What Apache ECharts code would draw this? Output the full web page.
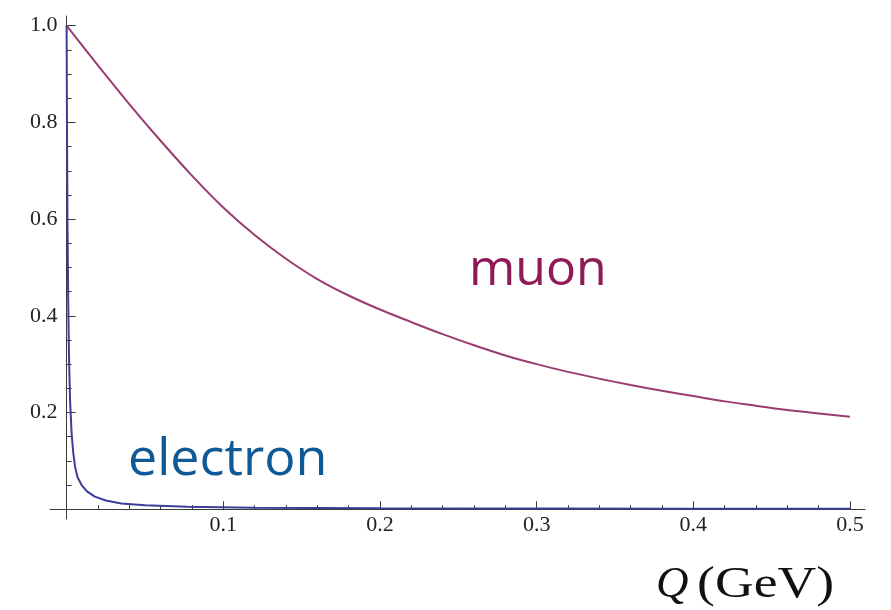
<!DOCTYPE html>
<html>
<head>
<meta charset="utf-8">
<script src="https://cdn.jsdelivr.net/npm/echarts@6/dist/echarts.min.js"></script>
<style>
  html, body { margin: 0; padding: 0; background: #ffffff; }
  #chart { width: 891px; height: 610px; }
</style>
</head>
<body>
<div id="chart"></div>
<script>
// Momentum transfer Q (GeV) and curve values for each lepton
const muonQ = [0, 0.02, 0.04, 0.06, 0.08, 0.10, 0.12, 0.14, 0.16, 0.18, 0.20, 0.22, 0.24,
  0.26, 0.28, 0.30, 0.32, 0.34, 0.36, 0.38, 0.40, 0.42, 0.44, 0.46, 0.48, 0.50];
const muonY = [1.000, 0.918, 0.838, 0.762, 0.690, 0.624, 0.567, 0.518, 0.476, 0.442, 0.413,
  0.387, 0.362, 0.339, 0.318, 0.300, 0.284, 0.270, 0.257, 0.245, 0.234, 0.223, 0.214,
  0.205, 0.198, 0.191];

const electronQ = [0, 0.0003, 0.0006, 0.001, 0.0015, 0.0022, 0.0032, 0.0042, 0.0054, 0.007,
  0.0096, 0.013, 0.018, 0.025, 0.035, 0.05, 0.077, 0.12, 0.2, 0.3, 0.4, 0.5];
const electronY = [1.0, 0.75, 0.58, 0.44, 0.32, 0.226, 0.157, 0.118, 0.088, 0.066,
  0.050, 0.037, 0.026, 0.018, 0.012, 0.008, 0.005, 0.0032, 0.0019, 0.0012, 0.0009, 0.0007];

// Axis ranges and tick settings
const xMin = 0, xMax = 0.5, xStep = 0.1, xMinorSplit = 5;
const yMin = 0, yMax = 1, yStep = 0.2, yMinorSplit = 4;

const pairs = (xs, ys) => xs.map((x, i) => [x, ys[i]]);

const axisColor = '#3a3a3a';
const serif = '"Liberation Serif", "Times New Roman", Times, serif';
const tickFont = { fontFamily: serif, fontSize: 22, color: '#222222' };
const tickLabel = v => (Math.abs(v) < 1e-9 ? '' : v.toFixed(1));

const chart = echarts.init(document.getElementById('chart'), null, { renderer: 'canvas' });

chart.setOption({
  animation: false,
  backgroundColor: '#ffffff',
  grid: [
    // frame carrying the long axis lines (they overshoot the data range)
    { left: 50, right: 26, top: 16, bottom: 91, containLabel: false },
    // data area
    { left: 66.6, right: 41, top: 25.7, bottom: 100.8, containLabel: false }
  ],
  xAxis: [
    {
      gridIndex: 0, type: 'value', min: -0.0106, max: 0.5096,
      axisLine: { show: true, onZero: true, lineStyle: { color: axisColor, width: 1 } },
      axisTick: { show: false }, axisLabel: { show: false }, splitLine: { show: false }
    },
    {
      gridIndex: 1, type: 'value', min: xMin, max: xMax, interval: xStep,
      axisLine: { show: false },
      axisTick: { show: true, inside: true, length: 8, lineStyle: { color: axisColor, width: 1 } },
      minorTick: { show: true, splitNumber: xMinorSplit, length: 4, lineStyle: { color: axisColor, width: 1 } },
      axisLabel: Object.assign({ margin: 5, formatter: tickLabel }, tickFont),
      splitLine: { show: false }
    }
  ],
  yAxis: [
    {
      gridIndex: 0, type: 'value', min: -0.0203, max: 1.0201,
      axisLine: { show: true, onZero: true, lineStyle: { color: axisColor, width: 1 } },
      axisTick: { show: false }, axisLabel: { show: false }, splitLine: { show: false }
    },
    {
      gridIndex: 1, type: 'value', min: yMin, max: yMax, interval: yStep,
      axisLine: { show: false },
      axisTick: { show: true, inside: true, length: 9, lineStyle: { color: axisColor, width: 1 } },
      minorTick: { show: true, splitNumber: yMinorSplit, length: 5, lineStyle: { color: axisColor, width: 1 } },
      axisLabel: Object.assign({ margin: 9, formatter: tickLabel }, tickFont),
      splitLine: { show: false }
    }
  ],
  series: [
    {
      name: 'muon', type: 'line', xAxisIndex: 1, yAxisIndex: 1,
      data: pairs(muonQ, muonY), showSymbol: false, smooth: 0.35, clip: false,
      lineStyle: { color: '#993d71', width: 2 }
    },
    {
      name: 'electron', type: 'line', xAxisIndex: 1, yAxisIndex: 1,
      data: pairs(electronQ, electronY), showSymbol: false, smooth: false, clip: false,
      lineStyle: { color: '#3d3d99', width: 2 }
    }
  ],
  graphic: [
    {
      type: 'text', left: 469, top: 246,
      style: { text: 'muon', font: '50px "Open Sans"', fill: '#8f1a55' }
    },
    {
      type: 'text', left: 128, top: 434,
      style: { text: 'electron', font: '52px "Open Sans"', fill: '#0f5a96' }
    },
    {
      type: 'text', x: 656, y: 563,
      style: { text: 'Q', fontFamily: serif, fontStyle: 'italic', fontSize: 45, fill: '#111111' }
    },
    {
      type: 'text', x: 697, y: 563, scaleX: 1.22,
      style: { text: '(GeV)', fontFamily: serif, fontSize: 44, fill: '#111111' }
    }
  ]
});
</script>
</body>
</html>
